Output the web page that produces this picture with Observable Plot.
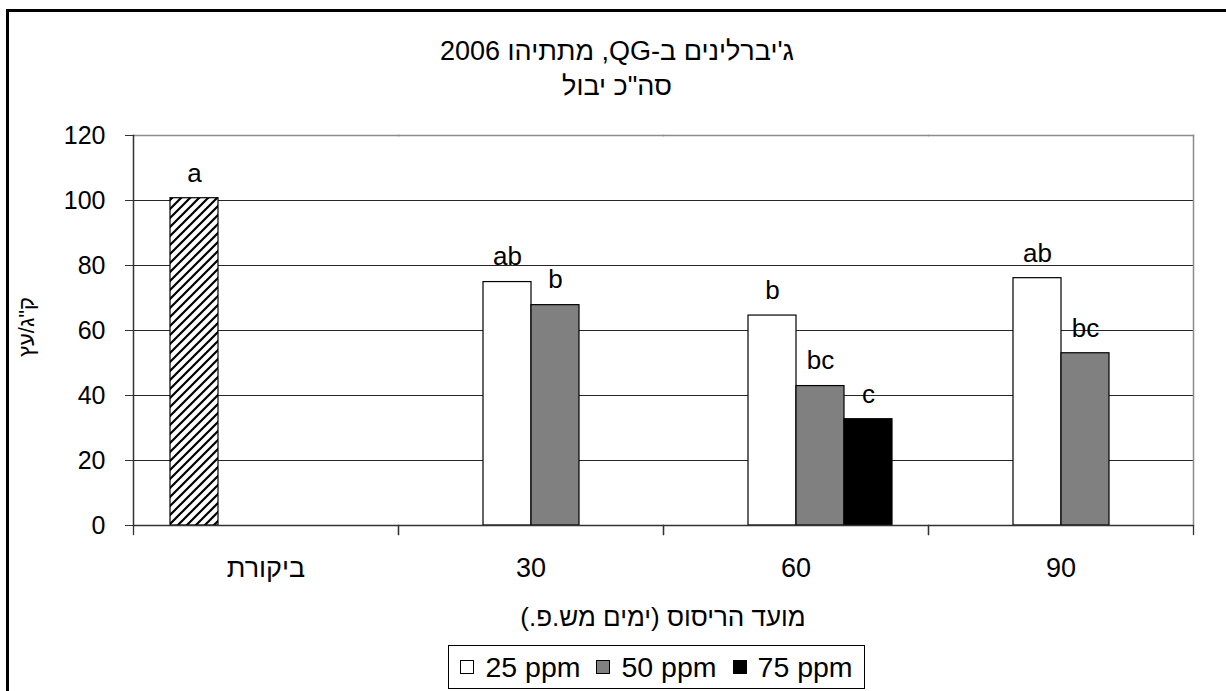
<!DOCTYPE html>
<html>
<head>
<meta charset="utf-8">
<script src="https://cdn.jsdelivr.net/npm/d3@7"></script>
<script src="https://cdn.jsdelivr.net/npm/@observablehq/plot@0.6"></script>
<style>
  html, body { margin: 0; padding: 0; background: white; }
  #chart { position: relative; width: 1226px; height: 691px; overflow: hidden; background: white;
           font-family: "Liberation Sans", Arial, sans-serif; color: #000; }
  #border { position: absolute; left: 6px; top: 9px; width: 1240px; height: 700px;
            border-left: 3px solid #000; border-top: 3px solid #000; box-sizing: border-box; }
  #plot { position: absolute; left: 0; top: 0; }
  .title { position: absolute; left: 617px; transform: translateX(-50%); white-space: nowrap;
           font-size: 27px; line-height: 35px; text-align: center; }
  #ylabel { position: absolute; left: 27px; top: 327px; transform: translate(-50%, -50%) rotate(-90deg);
            font-size: 22px; white-space: nowrap; }
  #xlabel { position: absolute; left: 663px; top: 617px; transform: translate(-50%, -50%);
            font-size: 26px; white-space: nowrap; }
  #legend { position: absolute; left: 448px; top: 645px; width: 417px; height: 44px; box-sizing: border-box;
            border: 1.5px solid #000; display: flex; align-items: center; justify-content: center;
            font-size: 28.5px; gap: 16px; direction: ltr; }
  .item { display: flex; align-items: center; gap: 11px; }
  .sw { width: 14px; height: 14px; box-sizing: border-box; border: 1px solid #000; }
</style>
</head>
<body>
<div id="chart">
  <div id="plot"></div>
  <div id="border"></div>
  <div class="title" dir="rtl" id="t1" style="top: 34px;"></div>
  <div class="title" dir="rtl" id="t2" style="top: 69px;"></div>
  <div id="ylabel" dir="rtl"></div>
  <div id="xlabel" dir="rtl"></div>
  <div id="legend"></div>
</div>
<script>
// ---- data ----
const titleLine1 = "ג'יברלינים ב-QG, מתתיהו 2006";
const titleLine2 = "סה\"כ יבול";
const yAxisLabel = "ק\"ג/עץ";
const xAxisLabel = "מועד הריסוס (ימים מש.פ.)";

const categories = ["ביקורת", "30", "60", "90"];
const seriesKeys = ["control", "25 ppm", "50 ppm", "75 ppm"];
const seriesFills = ["url(#hatch)", "#ffffff", "#808080", "#000000"];
const legendSeries = ["25 ppm", "50 ppm", "75 ppm"];

const barCategory = ["ביקורת", "30", "30", "60", "60", "60", "90", "90"];
const barSeries   = ["control", "25 ppm", "50 ppm", "25 ppm", "50 ppm", "75 ppm", "25 ppm", "50 ppm"];
const barValue    = [100.7, 74.9, 67.8, 64.6, 42.9, 32.7, 76.1, 53.0];
const barLetter   = ["a", "ab", "b", "b", "bc", "c", "ab", "bc"];

const yTicks = [0, 20, 40, 60, 80, 100, 120];
const gridTicks = [20, 40, 60, 80, 100];

const rows = barValue.map((v, i) => ({cat: barCategory[i], series: barSeries[i], value: v, letter: barLetter[i]}));

// ---- text ----
document.getElementById("t1").textContent = titleLine1;
document.getElementById("t2").textContent = titleLine2;
document.getElementById("ylabel").textContent = yAxisLabel;
document.getElementById("xlabel").textContent = xAxisLabel;
const legend = document.getElementById("legend");
legendSeries.forEach(s => {
  const it = document.createElement("div"); it.className = "item";
  const sw = document.createElement("div"); sw.className = "sw";
  sw.style.background = seriesFills[seriesKeys.indexOf(s)];
  const tx = document.createElement("span"); tx.textContent = s;
  it.appendChild(sw); it.appendChild(tx); legend.appendChild(it);
});

// ---- plot ----
const plotH = 600, mTop = 135, mBottom = 75;
const innerH = plotH - mTop - mBottom;
const chart = Plot.plot({
  width: 1226, height: plotH,
  marginLeft: 132, marginRight: 32, marginTop: mTop, marginBottom: mBottom,
  style: {fontFamily: "'Liberation Sans', Arial, sans-serif", color: "#000", background: "transparent", overflow: "visible"},
  fx: {domain: categories, padding: 0, label: null, axis: null},
  x: {domain: seriesKeys, paddingInner: 0, paddingOuter: 0.754, axis: null},
  y: {domain: [0, 120], label: null, axis: null},
  color: {domain: seriesKeys, range: seriesFills},
  marks: [
    Plot.gridY(gridTicks, {stroke: "#000", strokeOpacity: 0.85, strokeWidth: 1.2}),
    Plot.frame({anchor: "top", stroke: "#8c8c8c", strokeWidth: 1.5}),
    Plot.frame({anchor: "right", stroke: "#8c8c8c", strokeWidth: 1.5, facetAnchor: "right"}),
    Plot.barY(rows, {fx: "cat", x: "series", y: "value", fill: "series", stroke: "#000", strokeWidth: 1.2}),
    Plot.text(rows, {fx: "cat", x: "series", y: "value", text: "letter", dy: -25, fontSize: 26, fill: "#000"}),
    Plot.ruleY([0], {stroke: "#333", strokeWidth: 1.5}),
    Plot.frame({anchor: "left", stroke: "#333", strokeWidth: 1.5, facetAnchor: "left"}),
    Plot.frame({anchor: "left", stroke: "#333", strokeWidth: 1.3, insetTop: innerH, insetBottom: -9}),
    Plot.frame({anchor: "right", stroke: "#333", strokeWidth: 1.3, insetTop: innerH, insetBottom: -9}),
    Plot.axisY({ticks: yTicks, tickSize: 8, tickPadding: 20, fontSize: 25, label: null, tickFormat: d => String(d), stroke: "#333"}),
    Plot.axisFx({anchor: "bottom", tickSize: 0, tickPadding: 32, fontSize: 27, label: null})
  ]
});
d3.select(chart).insert("defs", ":first-child").html(
  `<pattern id="hatch" patternUnits="userSpaceOnUse" width="9" height="9">
     <rect width="9" height="9" fill="#fff"/>
     <path d="M-2,2 L2,-2 M0,9 L9,0 M7,11 L11,7" stroke="#000" stroke-width="2.2"/>
   </pattern>`);
document.getElementById("plot").appendChild(chart);
</script>
</body>
</html>
